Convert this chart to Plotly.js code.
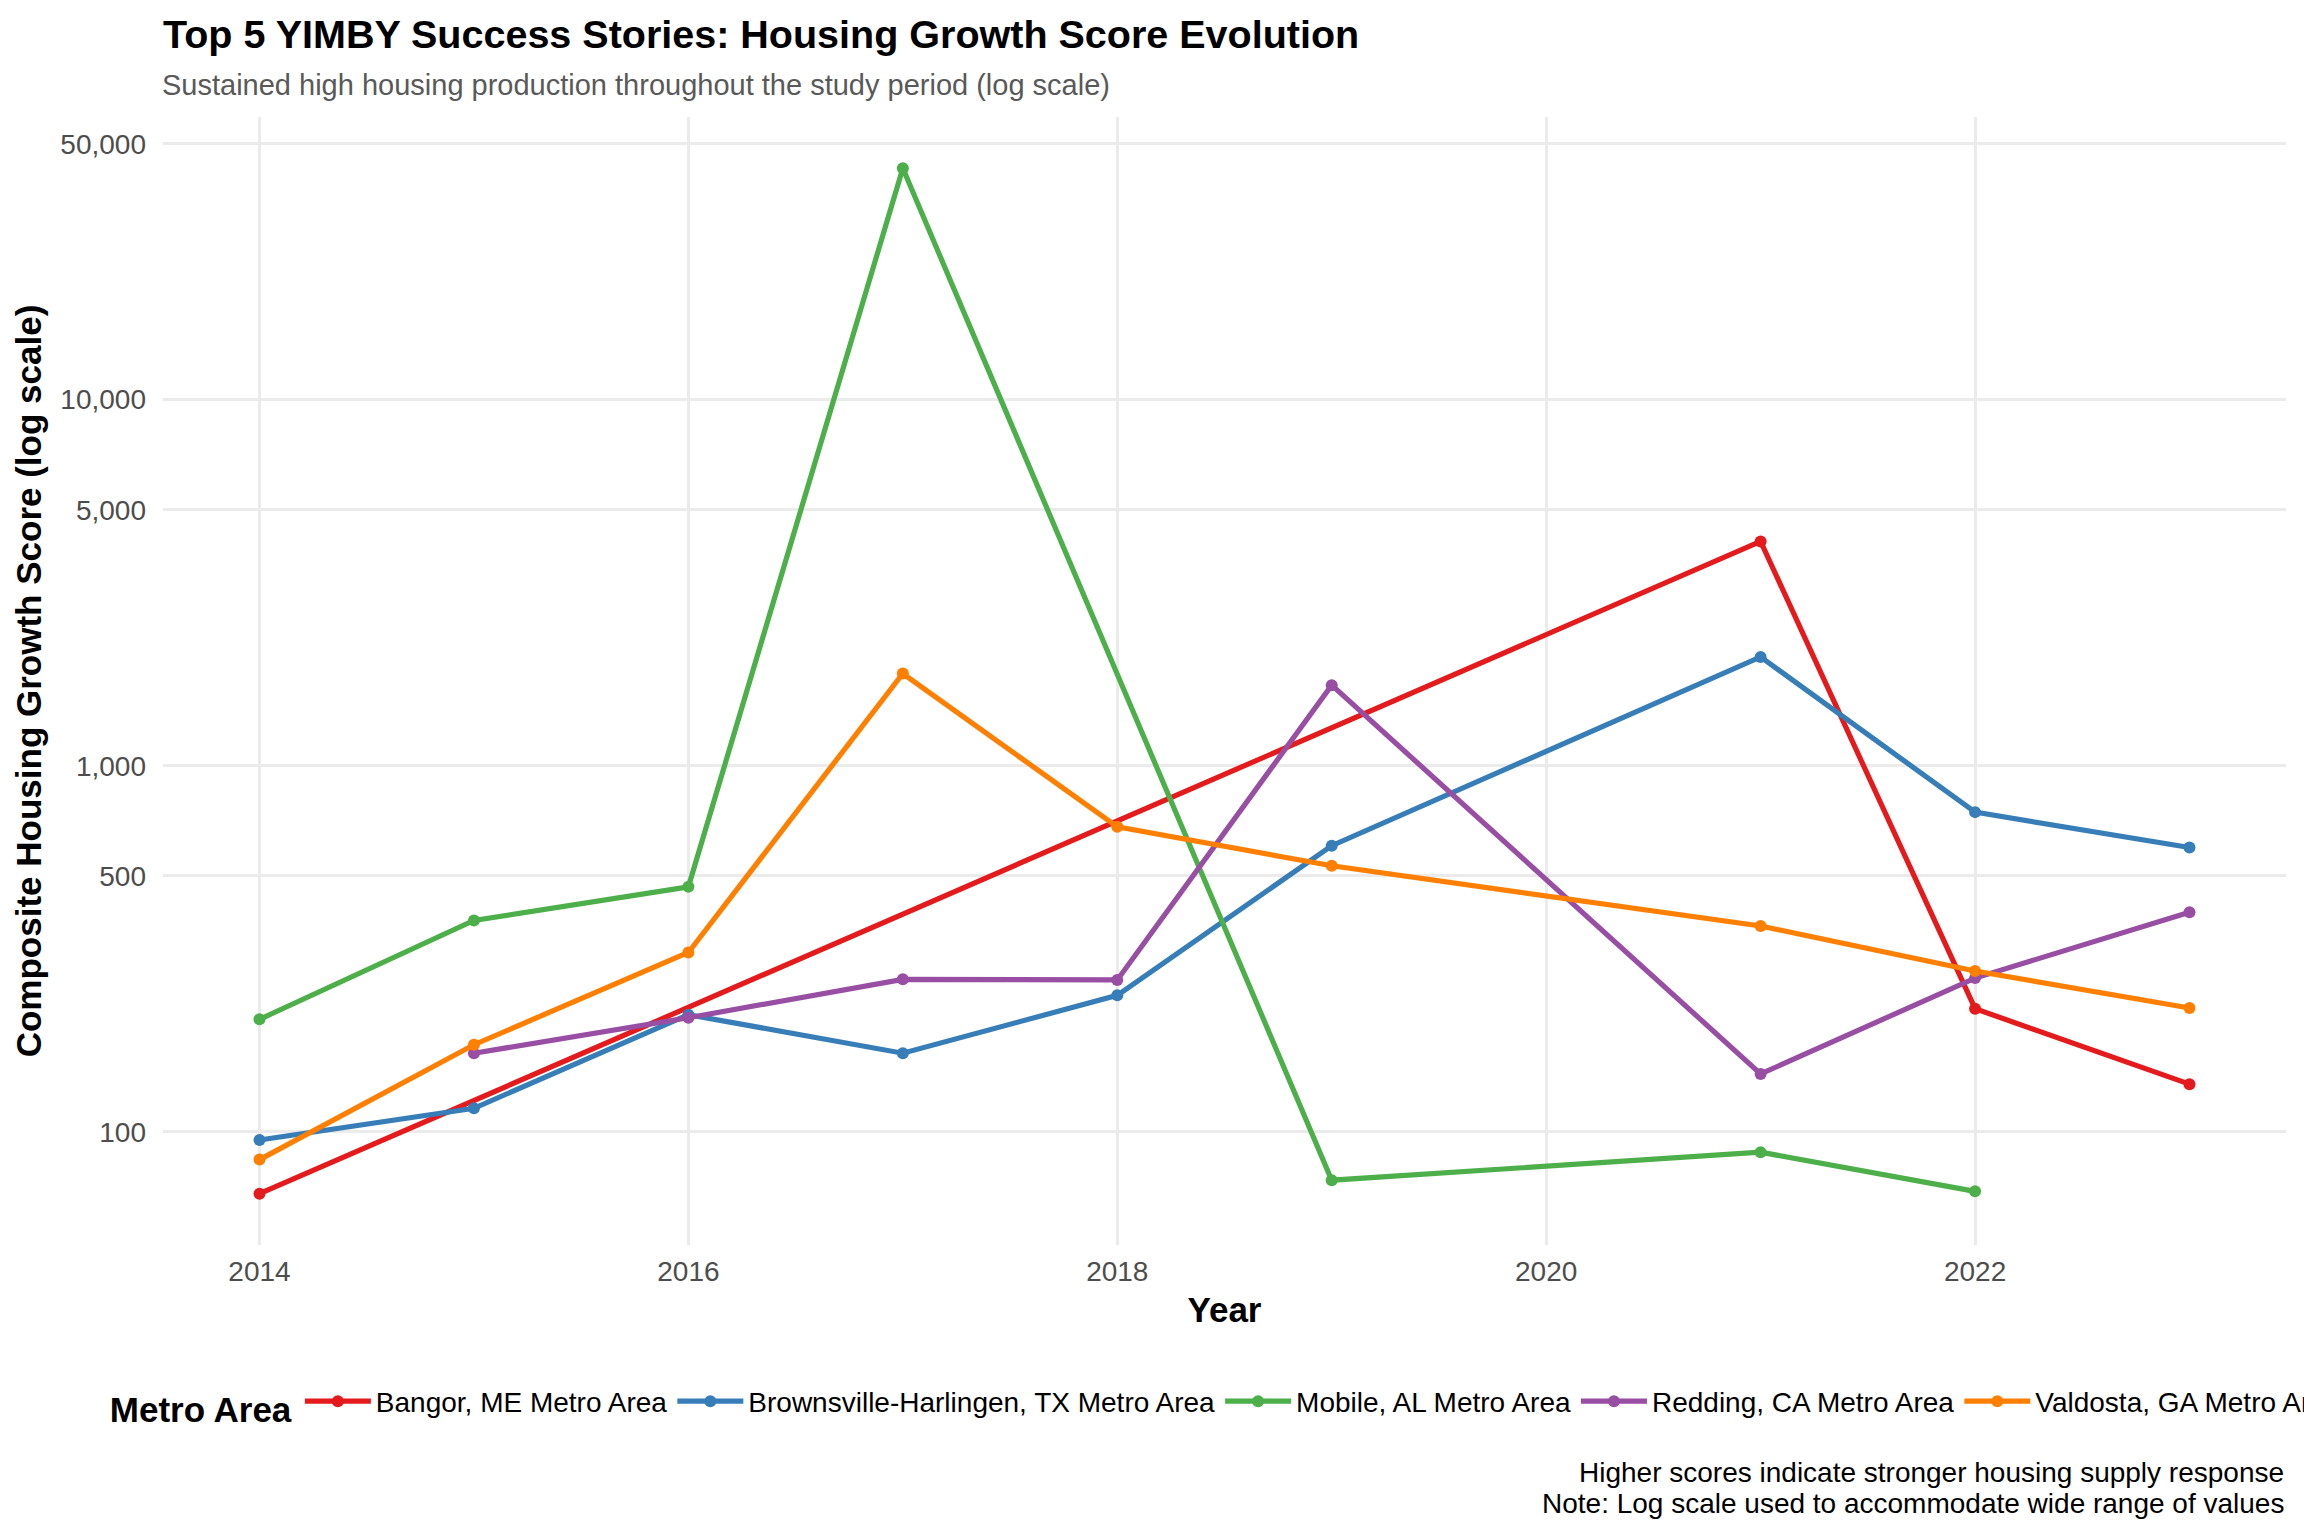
<!DOCTYPE html>
<html>
<head>
<meta charset="utf-8">
<script src="https://cdn.plot.ly/plotly-3.0.1.min.js"></script>
<style>html,body{margin:0;padding:0;background:#fff;}#chart{width:2304px;height:1536px;}</style>
</head>
<body>
<div id="chart"></div>
<script>
// ---- data ----
const years = [2014, 2015, 2016, 2017, 2018, 2019, 2020, 2021, 2022, 2023];
const bangor      = [67.8, null, null, null, null, null, null, 4100, 217, 135];
const brownsville = [95, 116, 209, 164, 236, 605, null, 1982, 747, 598];
const mobile      = [203, 378, 467, 42850, null, 73.8, null, 88, 68.8, null];
const redding     = [null, 164, 205, 261, 260, 1660, null, 144, 263, 398];
const valdosta    = [84, 173, 309, 1786, 681, 533, null, 365, 275, 218];

const seriesNames = ["Bangor, ME Metro Area", "Brownsville-Harlingen, TX Metro Area",
                     "Mobile, AL Metro Area", "Redding, CA Metro Area", "Valdosta, GA Metro Area"];
const seriesValues = [bangor, brownsville, mobile, redding, valdosta];
const seriesColors = ["#E41A1C", "#377EB8", "#4DAF4A", "#984EA3", "#FF7F00"];

const yTickVals = [100, 500, 1000, 5000, 10000, 50000];
const yTickText = ["100", "500", "1,000", "5,000", "10,000", "50,000"];
const xTickVals = [2014, 2016, 2018, 2020, 2022];

const titleText = "Top 5 YIMBY Success Stories: Housing Growth Score Evolution";
const subtitleText = "Sustained high housing production throughout the study period (log scale)";
const captionLines = ["Higher scores indicate stronger housing supply response",
                      "Note: Log scale used to accommodate wide range of values"];

const FONT = "Liberation Sans, Arial, Helvetica, sans-serif";

const traces = seriesNames.map((name, i) => ({
  type: "scatter",
  mode: "lines+markers",
  name: name,
  x: years,
  y: seriesValues[i],
  connectgaps: true,
  line: {color: seriesColors[i], width: 5.2},
  marker: {color: seriesColors[i], size: 12}
}));

const layout = {
  width: 2304,
  height: 1536,
  paper_bgcolor: "#ffffff",
  plot_bgcolor: "#ffffff",
  font: {family: FONT, color: "#000000"},
  margin: {l: 163, r: 18, t: 117, b: 291, autoexpand: false},
  showlegend: true,
  title: {
    text: "<b>" + titleText + "</b>",
    font: {family: FONT, size: 39.5, color: "#000000"},
    xref: "paper", x: 0, xanchor: "left",
    yref: "container", y: 1 - 34 / 1536, yanchor: "middle"
  },
  xaxis: {
    range: [2013.55, 2023.45],
    tickmode: "array",
    tickvals: xTickVals,
    ticktext: xTickVals.map(String),
    showgrid: true,
    gridcolor: "#EBEBEB",
    gridwidth: 2.6,
    zeroline: false,
    showline: false,
    ticks: "",
    ticklabelstandoff: 7,
    tickfont: {family: FONT, size: 28, color: "#4D4D4D"},
    title: {text: "<b>Year</b>", font: {family: FONT, size: 35, color: "#000000"}, standoff: 11}
  },
  yaxis: {
    type: "log",
    range: [1.691, 4.772],
    tickmode: "array",
    tickvals: yTickVals,
    ticktext: yTickText,
    showgrid: true,
    gridcolor: "#EBEBEB",
    gridwidth: 2.6,
    zeroline: false,
    showline: false,
    ticks: "",
    ticklabelstandoff: 16,
    tickfont: {family: FONT, size: 28, color: "#4D4D4D"},
    title: {text: "<b>Composite Housing Growth Score (log scale)</b>", font: {family: FONT, size: 35, color: "#000000"}, standoff: 8}
  },
  legend: {
    orientation: "h",
    x: -0.026, xanchor: "left",
    y: -0.1414, yanchor: "middle",
    font: {family: FONT, size: 28, color: "#000000"},
    title: {text: "<b>Metro Area</b>", font: {family: FONT, size: 35, color: "#000000"}, side: "left"},
    itemwidth: 66,
    bgcolor: "rgba(0,0,0,0)"
  },
  annotations: [
    {
      text: subtitleText,
      xref: "paper", yref: "paper", x: -0.0015, y: 1.0284,
      xanchor: "left", yanchor: "middle", showarrow: false,
      font: {family: FONT, size: 29, color: "#595959"}
    },
    {
      text: captionLines[0],
      xref: "paper", yref: "paper", x: 1, y: -0.2017,
      xanchor: "right", yanchor: "middle", align: "right", showarrow: false,
      font: {family: FONT, size: 28, color: "#000000"}
    },
    {
      text: captionLines[1],
      xref: "paper", yref: "paper", x: 1, y: -0.2292,
      xanchor: "right", yanchor: "middle", align: "right", showarrow: false,
      font: {family: FONT, size: 28, color: "#000000"}
    }
  ]
};

Plotly.newPlot("chart", traces, layout, {displayModeBar: false, responsive: false});
</script>
</body>
</html>
